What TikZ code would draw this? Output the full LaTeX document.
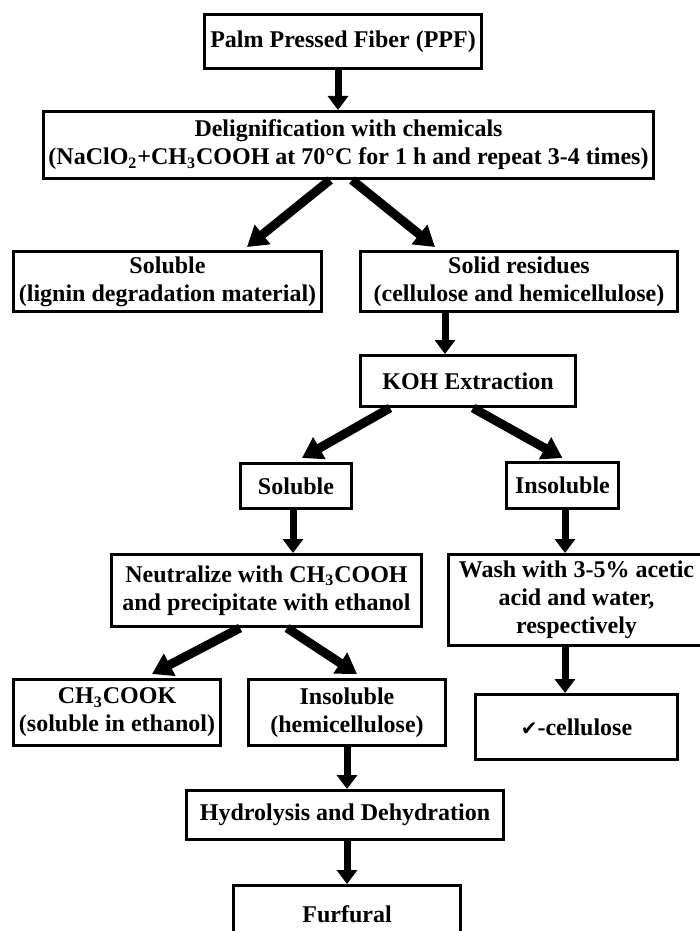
\documentclass[tikz,border=0pt]{standalone}
\usepackage{fontspec}
\setmainfont{Liberation Serif}
\newfontfamily\checkfont{DejaVu Sans}
\usetikzlibrary{arrows.meta, positioning}

\begin{document}
\begin{tikzpicture}[
  x=0.5pt, y=-0.5pt,
  flowbox/.style={
    rectangle, draw=black, line width=1.5pt,
    inner sep=0pt, align=center,
    font=\fontsize{12pt}{14pt}\selectfont\bfseries
  },
  arr/.style={-{Triangle[length=7pt, width=10pt]}, line width=3.5pt},
  bigarr/.style={-{Triangle[length=10pt, width=12pt]}, line width=4.5pt}
]
\useasboundingbox (0,0) rectangle (700,931);
\clip (0,0) rectangle (700,931);

%% Top of the chain
\node[flowbox, minimum width=138.5pt, minimum height=27pt] (ppf) at (343,41.5)
  {Palm Pressed Fiber (PPF)};
\node[flowbox, minimum width=305pt, minimum height=33.5pt,
      below=20pt of ppf, xshift=2.75pt] (delig)
  {Delignification with chemicals\\(NaClO\textsubscript{2}+CH\textsubscript{3}COOH at 70°C for 1 h and repeat 3-4 times)};

%% First split
\node[flowbox, minimum width=154pt, minimum height=30pt,
      below=35pt of delig, xshift=-90.5pt] (lignin)
  {Soluble\\(lignin degradation material)};
\node[flowbox, minimum width=158.5pt, minimum height=30pt,
      below=35pt of delig, xshift=85.25pt] (solid)
  {Solid residues\\(cellulose and hemicellulose)};
\node[flowbox, minimum width=107.5pt, minimum height=25.5pt,
      below=20.5pt of solid, xshift=-25.5pt] (koh)
  {KOH Extraction};

%% Second split
\node[flowbox, minimum width=55.5pt, minimum height=22.5pt,
      below=27pt of koh, xshift=-86pt] (kohsol)
  {Soluble};
\node[flowbox, minimum width=56pt, minimum height=23pt,
      below=26.5pt of koh, xshift=47.25pt] (kohins)
  {Insoluble};
\node[flowbox, minimum width=155pt, minimum height=36pt,
      below=21.5pt of kohsol, xshift=-14.75pt] (neut)
  {Neutralize with CH\textsubscript{3}COOH\\and precipitate with ethanol};
\node[flowbox, minimum width=128pt, minimum height=45.5pt,
      below=21.5pt of kohins, xshift=7pt] (wash)
  {Wash with 3-5\% acetic\\acid and water,\\respectively};

%% Third split and products
\node[flowbox, minimum width=103.5pt, minimum height=33pt,
      below=25pt of neut, xshift=-74.75pt] (acetate)
  {CH\textsubscript{3}COOK\\(soluble in ethanol)};
\node[flowbox, minimum width=98.5pt, minimum height=33pt,
      below=25pt of neut, xshift=40.25pt] (hemi)
  {Insoluble\\(hemicellulose)};
\node[flowbox, minimum width=101pt, minimum height=32.5pt,
      below=23pt of wash] (alpha)
  {{\checkfont\fontsize{10pt}{12pt}\selectfont ✔}-cellulose};
\node[flowbox, minimum width=158.5pt, minimum height=24.5pt,
      below=21pt of hemi, xshift=-1pt] (hydro)
  {Hydrolysis and Dehydration};
\node[flowbox, minimum width=113.5pt, minimum height=29pt,
      below=21.5pt of hydro, xshift=1pt] (furf)
  {Furfural};

%% Straight arrows
\draw[arr] ([xshift=-2.5pt]ppf.south) -- ([xshift=-2.5pt]ppf.south |- delig.north);
\draw[arr] ([xshift=-37pt]solid.south) -- ([xshift=-37pt]solid.south |- koh.north);
\draw[arr] ([xshift=-1.5pt]kohsol.south) -- ([xshift=-1.5pt]kohsol.south |- neut.north);
\draw[arr] ([xshift=1.25pt]kohins.south) -- ([xshift=1.25pt]kohins.south |- wash.north);
\draw[arr] ([xshift=-5.75pt]wash.south) -- ([xshift=-5.75pt]wash.south |- alpha.north);
\draw[arr] (hemi.south) -- (hemi.south |- hydro.north);
\draw[arr] ([xshift=1pt]hydro.south) -- ([xshift=1pt]hydro.south |- furf.north);

%% Slanted arrows
\draw[bigarr] ([xshift=-9.25pt]delig.south) -- ([xshift=39.75pt, yshift=1.5pt]lignin.north);
\draw[bigarr] ([xshift=1.75pt]delig.south) -- ([xshift=-42pt, yshift=1.5pt]solid.north);
\draw[bigarr] ([xshift=-39pt]koh.south) -- ([xshift=3pt, yshift=2pt]kohsol.north);
\draw[bigarr] ([xshift=2.5pt]koh.south) -- ([yshift=1.5pt]kohins.north);
\draw[bigarr] ([xshift=-13.25pt]neut.south) -- ([xshift=17.5pt, yshift=2pt]acetate.north);
\draw[bigarr] ([xshift=10.25pt]neut.south) -- ([xshift=5pt, yshift=2pt]hemi.north);

\end{tikzpicture}
\end{document}
